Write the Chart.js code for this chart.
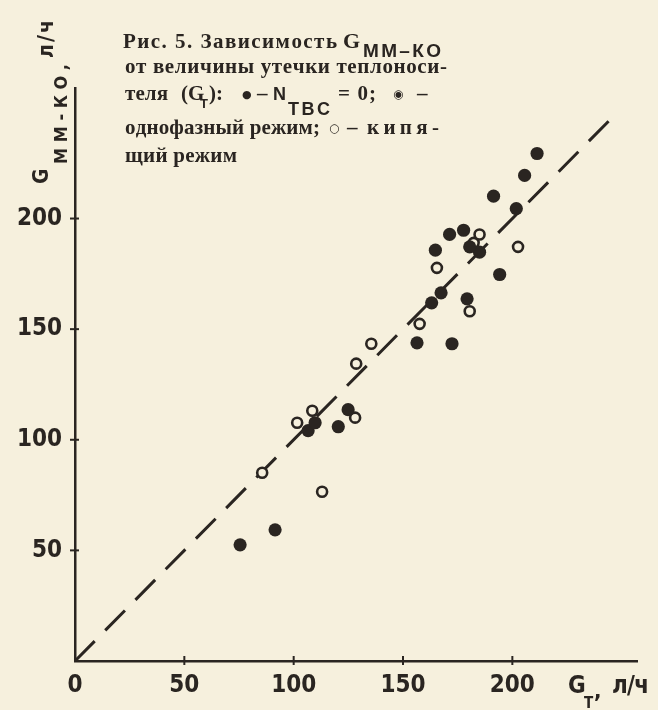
<!DOCTYPE html>
<html>
<head>
<meta charset="utf-8">
<script src="https://cdn.jsdelivr.net/npm/chart.js@4.4.1/dist/chart.umd.min.js"></script>
<style>
  html, body { margin: 0; padding: 0; background: #f6f0dd; }
  canvas { display: block; }
</style>
</head>
<body>
<canvas id="chart" width="658" height="710"></canvas>
<script>
// Утечка теплоносителя G_T, л/ч (x) и расход G_ММ-КО, л/ч (y)

// ● — N_ТВС = 0 и однофазный режим (тёмные точки)
const solidX = [75.5, 91.5, 106.6, 109.8, 120.4, 124.9, 156.4, 172.4, 163.1, 167.4, 179.3,
                194.2, 164.8, 185.0, 180.5, 171.3, 177.7, 201.8, 191.4, 205.6, 211.3];
const solidY = [52.5, 59.3, 104.1, 107.7, 105.9, 113.6, 143.8, 143.4, 161.9, 166.4, 163.7,
                174.7, 185.7, 184.8, 187.2, 192.8, 194.7, 204.5, 210.1, 219.5, 229.4];

// ○ — кипящий режим
const boilingX = [85.6, 113.0, 101.6, 108.5, 128.1, 128.6, 135.5, 157.6, 180.5, 165.5,
                  182.3, 185.0, 202.6];
const boilingY = [85.1, 76.5, 107.7, 113.1, 110.0, 134.4, 143.4, 152.4, 158.1, 177.7,
                  189.0, 192.8, 187.2];

// штриховая линия G_ММ-КО = G_T
const diagX = [0, 245];
const diagY = [0, 245];

const xTicks = [0, 50, 100, 150, 200];
const yTicks = [50, 100, 150, 200];

const INK = '#2a2521';
const PAPER = '#f6f0dd';
const NARROW = '"DejaVu Sans Condensed", "DejaVu Sans", sans-serif';
const SERIF = '"Liberation Serif", "DejaVu Serif", serif';
const SANS = '"Liberation Sans", "DejaVu Sans", sans-serif';

const toPoints = (xs, ys) => xs.map((x, i) => ({ x, y: ys[i] }));

// text stretched letter by letter over a given width
function spaced(ctx, text, x, y, w) {
  const chars = [...text];
  const widths = chars.map(c => ctx.measureText(c).width);
  const total = widths.reduce((a, b) => a + b, 0);
  const gap = (chars.length > 1 && w) ? (w - total) / (chars.length - 1) : 0;
  let cx = x;
  chars.forEach((c, i) => { ctx.fillText(c, cx, y); cx += widths[i] + gap; });
}

const BODY = 'bold 21px ' + SERIF;
const caption = [
  { t: 'Рис. 5. Зависимость', x: 123, y: 48, w: 214, f: BODY },
  { t: 'G', x: 343, y: 48, f: 'bold 22px ' + SERIF },
  { t: 'ММ–КО', x: 363, y: 57, w: 78, f: 'bold 19px ' + SANS },
  { t: 'от величины утечки теплоноси-', x: 125, y: 73, w: 322, f: BODY },
  { t: 'теля', x: 125, y: 100, w: 43, f: BODY },
  { t: '(G', x: 181, y: 100, f: BODY },
  { t: 'Т', x: 200, y: 108, f: 'bold 13px ' + SANS },
  { t: '):', x: 209, y: 100, f: BODY },
  { t: '●', x: 242, y: 98, f: '11px "DejaVu Sans"' },
  { t: '–', x: 257, y: 100, f: BODY },
  { t: 'N', x: 273, y: 100, f: 'bold 18px ' + SANS },
  { t: 'ТВС', x: 288, y: 115, w: 42, f: 'bold 18px ' + SANS },
  { t: '= 0;', x: 338, y: 100, w: 38, f: BODY },
  { t: '◉', x: 393, y: 98, f: '12px "DejaVu Sans"' },
  { t: '–', x: 417, y: 100, f: BODY },
  { t: 'однофазный режим;', x: 125, y: 134, w: 195, f: BODY },
  { t: '○', x: 329, y: 132, f: '12px "DejaVu Sans"' },
  { t: '–', x: 347, y: 134, f: BODY },
  { t: 'кипя-', x: 367, y: 134, w: 72, f: BODY },
  { t: 'щий режим', x: 125, y: 162, w: 112, f: BODY }
];

const paperAndText = {
  id: 'paperAndText',
  beforeDraw(chart) {
    const ctx = chart.ctx;
    ctx.save();
    ctx.fillStyle = PAPER;
    ctx.fillRect(0, 0, chart.width, chart.height);
    ctx.restore();
  },
  afterDraw(chart) {
    const ctx = chart.ctx;
    const xs = chart.scales.x, ys = chart.scales.y;
    ctx.save();
    ctx.fillStyle = INK;
    ctx.strokeStyle = INK;
    ctx.textBaseline = 'alphabetic';
    ctx.textAlign = 'left';

    // засечки на осях
    ctx.lineWidth = 2;
    const x0 = xs.getPixelForValue(0), y0 = ys.getPixelForValue(0);
    xTicks.filter(v => v > 0).forEach(v => {
      const px = xs.getPixelForValue(v);
      ctx.beginPath(); ctx.moveTo(px, y0 - 5); ctx.lineTo(px, y0 + 4); ctx.stroke();
    });
    yTicks.forEach(v => {
      const py = ys.getPixelForValue(v);
      ctx.beginPath(); ctx.moveTo(x0 - 5, py); ctx.lineTo(x0 + 4, py); ctx.stroke();
    });

    // подпись рисунка
    caption.forEach(s => { ctx.font = s.f; spaced(ctx, s.t, s.x, s.y, s.w); });

    // подпись оси x
    ctx.font = 'bold 24px ' + NARROW;
    ctx.fillText('G', 568, 693);
    ctx.font = 'bold 15px ' + NARROW;
    ctx.fillText('Т', 584, 708);
    ctx.font = 'bold 22px ' + NARROW;
    ctx.fillText(',', 594, 698);
    ctx.font = 'bold 24px ' + NARROW;
    spaced(ctx, 'л/ч', 612, 693, 37);

    // подпись оси y
    ctx.rotate(-Math.PI / 2);
    ctx.font = 'bold 21px ' + NARROW;
    ctx.fillText('G', -184, 48);
    ctx.font = 'bold 18px ' + NARROW;
    spaced(ctx, 'ММ-КО,', -164, 67, 100);
    ctx.font = 'bold 21px ' + NARROW;
    spaced(ctx, 'л/ч', -58, 53, 38);
    ctx.restore();
  }
};

const tickFont = { family: NARROW, size: 24, weight: 'bold' };

new Chart(document.getElementById('chart'), {
  type: 'scatter',
  data: {
    datasets: [
      {
        type: 'line',
        data: toPoints(diagX, diagY),
        borderColor: INK,
        borderWidth: 3,
        borderDash: [28, 15],
        pointRadius: 0,
        fill: false,
        clip: false,
        order: 3
      },
      {
        data: toPoints(boilingX, boilingY),
        pointRadius: 5,
        pointBackgroundColor: PAPER,
        pointBorderColor: INK,
        pointBorderWidth: 2.6,
        clip: false,
        order: 2
      },
      {
        data: toPoints(solidX, solidY),
        pointRadius: 6.6,
        pointBackgroundColor: INK,
        pointBorderWidth: 0,
        clip: false,
        order: 1
      }
    ]
  },
  options: {
    responsive: false,
    animation: false,
    devicePixelRatio: 1,
    layout: { padding: { top: 88, right: 21, left: 0, bottom: 0 } },
    plugins: { legend: { display: false }, tooltip: { enabled: false } },
    scales: {
      x: {
        type: 'linear',
        min: 0,
        max: 257,
        afterBuildTicks: s => { s.ticks = xTicks.map(v => ({ value: v })); },
        afterFit: s => { s.height = 49; },
        grid: { display: false, drawTicks: false },
        border: { display: true, color: INK, width: 2.5 },
        ticks: { color: INK, font: tickFont, padding: 10, maxRotation: 0, autoSkip: false }
      },
      y: {
        type: 'linear',
        min: 0,
        max: 259,
        afterBuildTicks: s => { s.ticks = yTicks.map(v => ({ value: v })); },
        afterFit: s => { s.width = 75; },
        grid: { display: false, drawTicks: false },
        border: { display: true, color: INK, width: 2.5 },
        ticks: { color: INK, font: tickFont, padding: 13, autoSkip: false }
      }
    }
  },
  plugins: [paperAndText]
});
</script>
</body>
</html>
